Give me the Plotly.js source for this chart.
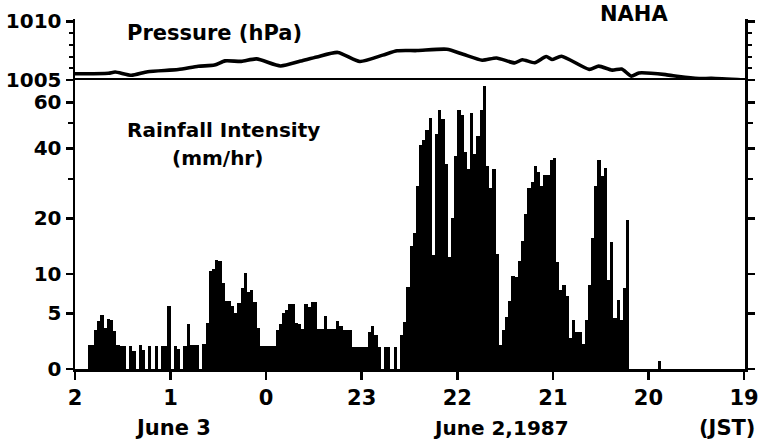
<!DOCTYPE html>
<html><head><meta charset="utf-8">
<script src="https://cdn.plot.ly/plotly-3.0.1.min.js"></script>
<style>html,body{margin:0;padding:0;background:#fff}#chart{width:759px;height:447px}</style>
</head><body><div id="chart"></div>
<script>
// ---- x axis (JST hours, June 2 = 19..23, June 3 = 24..26) ----
const hourTicks  = [26, 25, 24, 23, 22, 21, 20, 19];
const hourLabels = ['2', '1', '0', '23', '22', '21', '20', '19'];

// ---- rainfall intensity (mm/hr), 2-minute bins going back from 02 JST ----
const rainStartHour = 26;
const rainStepMin = 2;
const rainEarly = [
  0,0,0,0,
  1.9,1.9,3.3,4.2,4.8,3.5,4.4,4.3,3.2,1.9,1.8,
  1.8,0,1.8,1.4,0,1.9,1.5,0,1.8,0,1.8,0,1.8,1.8,5.8,0,1.8,1.6,0,1.8,3.9,1.9,1.9,1.9,
  0,2.0,4.0,10.5,10.8,12.1,12.0,8.7,6.4,6.4,5.8,5.0,6.2,8.0,10.2,7.5,7.8,6.3,3.5,
  1.8,1.8,1.8,1.8,1.8,
  3.3,3.9,5.0,5.4,6.1,6.1,4.0,3.9,3.4,6.1,5.7,6.3,6.3,3.4,3.4,4.7,3.4,3.4,3.4,4.2,3.7,3.3,3.3,3.3,
  1.7,1.7,1.7,1.7,1.7,3.1,3.7,2.8,1.7,0,1.7,1.7,0,1.7,0,2.8,4.1
];
const rainStorm = [
  8.2,14.5,17,28,41.1,43.2,47.4,52.4,13,45.4,
  56.4,51.8,34.8,12.7,20,37.4,56.4,54,38.7,32.9,
  55,38,44.6,56,69,33.9,27.6,32.9,13.1,
  1.9,3.3,4.6,6.4,9.7,9.5,12,15.5,20.9,27.6,
  29.2,33.9,32,28,31.2,31.2,35.8,36.5,11.8,7.8,
  8.5,7,2.5,4.3,3.1,3.1,2.0,4.3,8.4,16.1,
  28,35.8,31,33.3,9.2,15.3,4.5,6.6,4.3,8.1,19.6,
  0,0,0,0,0,0,0,0,0,0.6
];
const rainTicks = [0, 5, 10, 20, 40, 60];
const rainMinorTicks = [30, 50];

// ---- surface pressure (hPa) ----
const pressHour = [26.0,25.65,25.58,25.41,25.24,24.92,24.71,24.54,24.43,24.26,24.10,23.85,23.64,23.47,23.25,23.02,
  22.78,22.63,22.42,22.11,21.94,21.74,21.59,21.40,21.32,21.19,21.07,21.01,20.91,20.62,20.52,20.38,20.28,20.18,
  20.10,19.82,19.68,19.47,19.34,19.0];
const pressHpa = [1005.53,1005.58,1005.68,1005.40,1005.71,1005.89,1006.17,1006.27,1006.63,1006.59,1006.80,1006.20,
  1006.61,1006.97,1007.35,1006.58,1007.12,1007.49,1007.51,1007.62,1007.20,1006.69,1006.88,1006.46,1006.73,1006.47,
  1007.0,1006.75,1007.03,1005.91,1006.18,1005.84,1005.94,1005.33,1005.60,1005.46,1005.29,1005.13,1005.14,1005.0];
const pressTicks = [1005, 1010];
const pressMinorTicks = [1006, 1007, 1008, 1009];

// rainfall axis is logarithmic in (rate + 10 mm/hr)
const RAIN_OFFSET = 10;

const rain = rainEarly.concat(rainStorm);
const step = rainStepMin / 60;
const rainX = rain.map((_, i) => rainStartHour - (i + 0.5) * step);

const FONT = 'DejaVu Sans, Liberation Sans, Arial, sans-serif';
const tf = {family: FONT, size: 20, color: '#000', weight: 'bold'};

const traces = [
  {type: 'bar', x: rainX, y: rain, base: RAIN_OFFSET, width: step, xaxis: 'x', yaxis: 'y',
   marker: {color: '#000', line: {width: 0}}, hoverinfo: 'skip'},
  {type: 'scatter', mode: 'lines', x: pressHour, y: pressHpa, xaxis: 'x', yaxis: 'y2',
   line: {color: '#000', width: 3.6, shape: 'spline', smoothing: 0.6}, cliponaxis: false}
];

const splitY = 0.8257;
function ann(text, x, y, xa, size) {
  return {text: text, x: x, y: y, xref: 'paper', yref: 'paper', xanchor: xa || 'center', yanchor: 'middle',
          showarrow: false, font: {family: FONT, size: size || 20, color: '#000', weight: 'bold'}};
}

const layout = {
  width: 759, height: 447,
  margin: {l: 75, r: 14, t: 19, b: 78},
  paper_bgcolor: '#fff', plot_bgcolor: '#fff',
  showlegend: false, bargap: 0,
  xaxis: {range: [26, 18.99], tickmode: 'array', tickvals: hourTicks, ticktext: hourLabels,
          ticks: 'outside', ticklen: 8, tickwidth: 2.5, tickcolor: '#000',
          showline: true, linewidth: 2.5, linecolor: '#000', mirror: true,
          showgrid: false, zeroline: false, tickfont: Object.assign({}, tf, {size: 21}), anchor: 'y',
          ticklabeloverflow: 'allow'},
  yaxis: {type: 'log', domain: [0, splitY], range: [1, Math.log10(82.4)],
          tickmode: 'array', tickvals: rainTicks.map(v => v + RAIN_OFFSET), ticktext: rainTicks.map(String),
          ticks: 'outside', ticklen: 7, tickwidth: 2.5, tickcolor: '#000',
          minor: {tickmode: 'array', tickvals: rainMinorTicks.map(v => v + RAIN_OFFSET), ticks: 'outside',
                  ticklen: 5, tickwidth: 2, tickcolor: '#000', showgrid: false},
          showline: true, linewidth: 2.5, linecolor: '#000', mirror: 'ticks',
          showgrid: false, zeroline: false, tickfont: tf, anchor: 'x'},
  yaxis2: {domain: [splitY, 1], range: [1005, 1010.2],
          tickmode: 'array', tickvals: pressTicks, ticktext: pressTicks.map(String),
          ticks: 'outside', ticklen: 7, tickwidth: 2.5, tickcolor: '#000',
          minor: {tickmode: 'array', tickvals: pressMinorTicks, ticks: 'outside',
                  ticklen: 4, tickwidth: 2, tickcolor: '#000', showgrid: false},
          showline: true, linewidth: 2.5, linecolor: '#000', mirror: 'ticks',
          showgrid: false, zeroline: false, tickfont: tf, anchor: 'x'},
  annotations: [
    ann('NAHA', 0.834, 1.014, 'center', 21),
    ann('Pressure (hPa)', 0.0746, 0.96, 'left', 21),
    ann('Rainfall Intensity', 0.0746, 0.683, 'left', 20),
    ann('(mm/hr)', 0.212, 0.603, 'center', 20),
    ann('June 3', 0.146, -0.169, 'center', 21),
    ann('June 2,1987', 0.636, -0.169, 'center', 20),
    ann('(JST)', 1.018, -0.169, 'right', 21)
  ]
};

Plotly.newPlot('chart', traces, layout, {staticPlot: true, displayModeBar: false});
</script>
</body></html>
